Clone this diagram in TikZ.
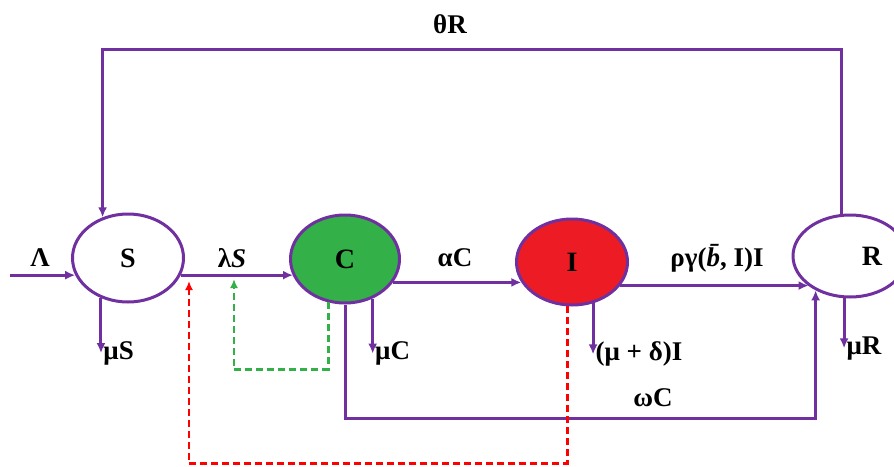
\documentclass[tikz,border=0pt]{standalone}
\usepackage{fontspec}
\setmainfont{Liberation Serif}
\usetikzlibrary{arrows.meta,shapes.geometric}
\definecolor{flowpurple}{RGB}{112,48,160}
\definecolor{carrgreen}{RGB}{51,176,72}
\definecolor{infred}{RGB}{237,28,36}
\begin{document}
\begin{tikzpicture}[x=1pt, y=-1pt, line width=3pt,
    main node/.style={ellipse,draw=flowpurple,fill=white,font=\fontsize{28}{30}\selectfont\bfseries,inner sep=0pt},
    lbl/.style={font=\fontsize{27}{30}\selectfont\bfseries,inner sep=1pt},
    flow/.style={draw=flowpurple,-{Latex[length=10pt,width=9pt]}},
    link/.style={dashed,line width=2.5pt,dash pattern=on 7pt off 4pt,-{Latex[length=9pt,width=8pt]}}]

                \useasboundingbox (0,0) rectangle (894,466);
                \clip (0,0) rectangle (894,466);

                \node[main node, minimum width=111pt, minimum height=88pt] at (128, 258) (S) {S};
                \node[main node, minimum width=109pt, minimum height=88pt, fill=carrgreen] at (345, 259) (C) {C};
                \node[main node, minimum width=111pt, minimum height=86pt, fill=infred] at (572, 262) (I) {I};
                \node[main node, minimum width=114pt, minimum height=82pt] at (850, 256) (R) {\hspace{44pt}R};
                \coordinate (lam) at (10, 0);

                \path (lam |- S.198) edge[flow] (S.198);
                \path (S.342) edge[flow] (S.342 -| C.198);
                \path (C.334) edge[flow] (C.334 -| I.202);
                \path (I.334) edge[flow] (I.334 -| R.216);

                \draw[flow] (S.236) -- ++(0, 55) node[lbl, anchor=west] (muS) {μS};
                \draw[flow] (C.305) -- ++(0, 55) node[lbl, anchor=west] (muC) {μC};
                \draw[flow] (I.297) -- ++(0, 51) node[lbl, anchor=west] (muI) {(μ + δ)I};
                \draw[flow] (R.262) -- ++(0, 50) node[lbl, anchor=west] (muR) {μR};

                \draw[flow] (C.south) -- ++(0, 114) -| (R.225);
                \draw[flow] (R.101) -- ++(0, -164) -| (S.122);

                \node[lbl] at (40, 258) (Lam) {Λ};
                \node[lbl] at (232, 258) (lamS) {λ\textit{S}};
                \node[lbl] at (455, 258) (alC) {αC};
                \node[lbl] at (717, 258) (rgI) {ργ(\textit{\=b}, I)I};
                \node[lbl] at (653, 398) (omC) {ωC};
                \node[lbl] at (450, 24) (thR) {θR};

                % feedback of C and I on the force of infection
                \coordinate (gtip) at (234, 279);
                \coordinate (rtip) at (189, 281);
                \draw[link, draw=carrgreen] (C.249) -- ++(0, 67) -| (gtip);
                \draw[link, draw=red] (I.264) -- ++(0, 157) -| (rtip);

            \end{tikzpicture}
\end{document}
